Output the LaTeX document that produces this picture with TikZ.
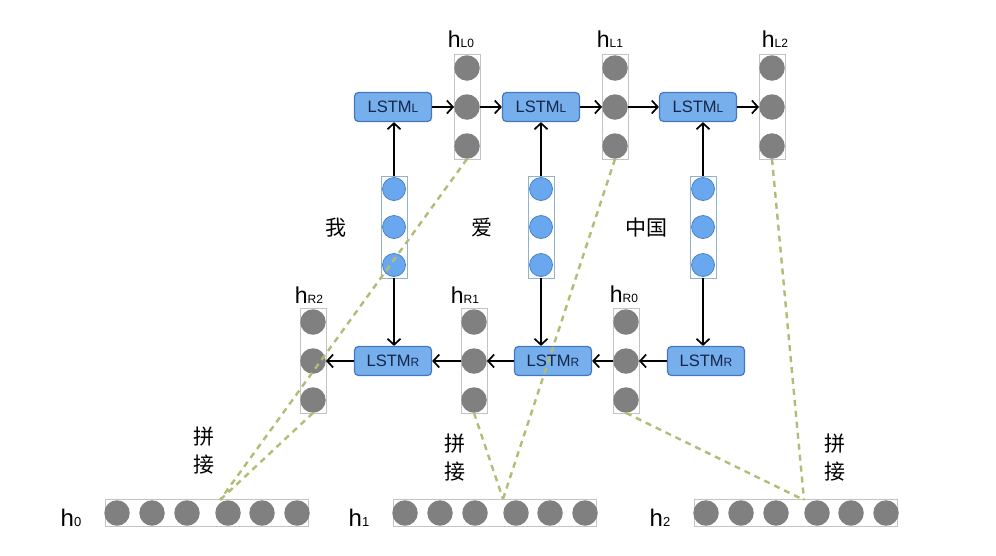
\documentclass[tikz,border=0pt]{standalone}
\usepackage{fontspec}
\setmainfont{Liberation Sans}
\newfontfamily\cjk{Noto Sans CJK SC}
\usetikzlibrary{arrows.meta}

\definecolor{lstmfill}{RGB}{118,175,235}
\definecolor{lstmline}{RGB}{68,120,190}
\definecolor{lstmtext}{RGB}{20,38,75}
\definecolor{embfill}{RGB}{105,168,238}
\definecolor{embline}{RGB}{75,130,200}
\definecolor{embframe}{RGB}{145,178,205}
\definecolor{unitgray}{RGB}{128,128,128}
\definecolor{framegray}{RGB}{195,195,195}
\definecolor{joingreen}{RGB}{178,188,118}

\newcommand{\hvec}[1]{h{\fontsize{12}{12}\selectfont #1}}
\newcommand{\lstmname}[1]{LSTM{\fontsize{12}{12}\selectfont #1}}

\begin{document}
\begin{tikzpicture}[x=1pt,y=-1pt,
  lstm/.style={draw=lstmline,fill=lstmfill,line width=1.2pt,rounded corners=4pt,
    minimum width=77pt,minimum height=29pt,inner sep=0pt,text=lstmtext,font=\fontsize{16.5}{16.5}\selectfont},
  unit/.style={circle,fill=unitgray,minimum size=25.5pt,inner sep=0pt},
  emb/.style={circle,fill=embfill,draw=embline,line width=0.8pt,minimum size=23pt,inner sep=0pt},
  col/.style={draw=framegray,line width=0.6pt,minimum width=26pt,minimum height=105pt,inner sep=0pt},
  embcol/.style={draw=embframe,line width=0.8pt,minimum width=26pt,minimum height=102pt,inner sep=0pt},
  rowbox/.style={draw=framegray,line width=0.6pt,minimum width=203pt,minimum height=27pt,inner sep=0pt},
  flow/.style={-{Straight Barb[length=6pt,width=13pt,line width=1.7pt]},line width=1.7pt},
  concat/.style={draw=joingreen,line width=2.4pt,dash pattern=on 6pt off 5pt},
  hlab/.style={font=\fontsize{23}{23}\selectfont},
  word/.style={font=\cjk\fontsize{21}{21}\selectfont},
  pinjie/.style={font=\cjk\fontsize{21}{28}\selectfont,align=center}]
\useasboundingbox (0,0) rectangle (996,555);

\node[lstm] (L1) at (393,107) {\lstmname{L}};
\node[lstm] (L2) at (541,107) {\lstmname{L}};
\node[lstm] (L3) at (698,107) {\lstmname{L}};
\node[lstm] (R1) at (393,361) {\lstmname{R}};
\node[lstm] (R2) at (553,361) {\lstmname{R}};
\node[lstm] (R3) at (706,361) {\lstmname{R}};

\foreach \i/\x in {0/467,1/615,2/772}{
  \node[col] (hL\i) at (\x,107) {};
  \node[unit] (hL\i-a) at (\x,68) {};
  \node[unit] (hL\i-b) at (\x,107) {};
  \node[unit] (hL\i-c) at (\x,146) {};
}
\foreach \i/\x in {2/313,1/474,0/626}{
  \node[col] (hR\i) at (\x,361) {};
  \node[unit] (hR\i-a) at (\x,322) {};
  \node[unit] (hR\i-b) at (\x,361) {};
  \node[unit] (hR\i-c) at (\x,400) {};
}
\foreach \i/\x in {0/394,1/541,2/703}{
  \node[embcol] (e\i) at (\x,227) {};
  \node[emb] (e\i-a) at (\x,189) {};
  \node[emb] (e\i-b) at (\x,227) {};
  \node[emb] (e\i-c) at (\x,265) {};
}
\foreach \i/\a in {0/105,1/393,2/694}{
  \node[rowbox] (v\i) at (\a+101.5,513) {};
  \foreach \d [count=\k] in {12,47,82,123,157,192}
    \node[unit] (v\i-\k) at (\a+\d,513) {};
  \node[font=\fontsize{24}{24}\selectfont] (lv\i) at (\a-34,518) {h{\fontsize{13}{13}\selectfont\i}};
}

\node[hlab] (lhL0) at (461,39) {\hvec{L0}};
\node[hlab] (lhL1) at (610,39) {\hvec{L1}};
\node[hlab] (lhL2) at (775,39) {\hvec{L2}};
\node[hlab] (lhR2) at (309,295) {\hvec{R2}};
\node[hlab] (lhR1) at (465,295) {\hvec{R1}};
\node[hlab] (lhR0) at (624,294) {\hvec{R0}};

\node[word] (w0) at (336,228) {我};
\node[word] (w1) at (482,228) {爱};
\node[word] (w2) at (646,228) {中国};

\node[pinjie] (p0) at (204,451) {拼\\接};
\node[pinjie] (p1) at (455,458) {拼\\接};
\node[pinjie] (p2) at (835,458) {拼\\接};

\draw[flow] (L1) -- (hL0-b);
\draw[flow] (hL0-b) -- (L2);
\draw[flow] (L2) -- (hL1-b);
\draw[flow] (hL1-b) -- (L3);
\draw[flow] (L3) -- (hL2-b);
\draw[flow] (R3) -- (hR0-b);
\draw[flow] (hR0-b) -- (R2);
\draw[flow] (R2) -- (hR1-b);
\draw[flow] (hR1-b) -- (R1);
\draw[flow] (R1) -- (hR2-b);
\foreach \i/\l/\r in {0/L1/R1,1/L2/R2,2/L3/R3}{
  \draw[flow] (e\i.north) -- (e\i.north |- \l.south);
  \draw[flow] (e\i.south) -- (e\i.south |- \r.north);
}

\coordinate (j0) at (220,500);
\coordinate (j1) at (503,499);
\coordinate (j2) at (804,500);
\draw[concat] (hL0-c.south) -- (j0);
\draw[concat] (hR2-c.south) -- (j0);
\draw[concat] (hR1-c.south) -- (j1);
\draw[concat] (hL1-c.south) -- (j1);
\draw[concat] (hR0-c.south) -- (j2);
\draw[concat] (hL2-c.south) -- (j2);
\end{tikzpicture}
\end{document}
